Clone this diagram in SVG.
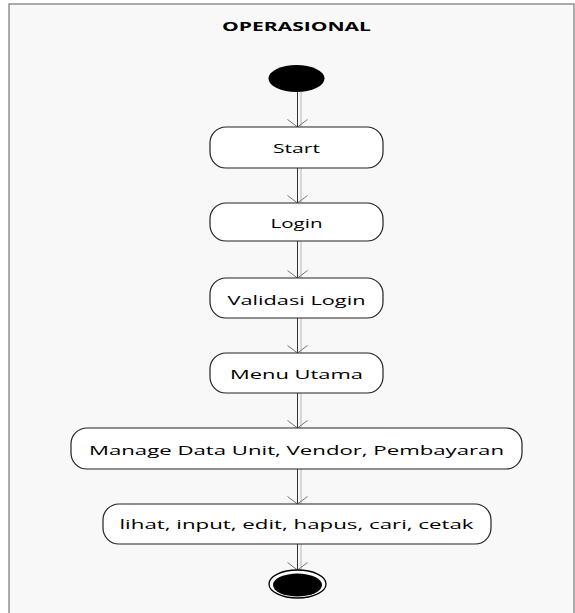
<svg xmlns="http://www.w3.org/2000/svg" width="575" height="613" viewBox="0 0 575 613">
<style>
.node rect{fill:#ffffff;stroke:#222;stroke-width:1.2}
.lbl{font-family:"Open Sans","Noto Sans",sans-serif;font-size:13.5px;fill:#000;text-anchor:middle}
.ttl{font-family:"Open Sans","Noto Sans",sans-serif;font-size:13px;font-weight:bold;fill:#000;text-anchor:middle}
.edge{stroke:#333;stroke-width:1;fill:none;marker-end:url(#arr)}
.shadow{stroke:#d6d6d6;stroke-width:2;fill:none}
</style>
<defs>
<marker id="arr" markerWidth="10" markerHeight="22" refX="8" refY="11" orient="auto" markerUnits="userSpaceOnUse" viewBox="0 0 10 22">
<path d="M0.5,1 L8,11 L0.5,21" fill="none" stroke="#777" stroke-width="1"/>
</marker>
</defs>
<rect x="0" y="0" width="575" height="613" fill="#ffffff"/>
<rect x="9" y="4" width="565" height="612" fill="#f8f8f8" stroke="#777" stroke-width="1.2"/>
<text class="ttl" x="296.5" y="31" textLength="149" lengthAdjust="spacingAndGlyphs">OPERASIONAL</text>
<g id="connectors">
<line class="shadow" x1="301" y1="92" x2="301" y2="127"/>
<line class="edge" x1="297.5" y1="92" x2="297.5" y2="127"/>
<line class="shadow" x1="301" y1="168" x2="301" y2="203"/>
<line class="edge" x1="297.5" y1="168" x2="297.5" y2="203"/>
<line class="shadow" x1="301" y1="241" x2="301" y2="278"/>
<line class="edge" x1="297.5" y1="241" x2="297.5" y2="278"/>
<line class="shadow" x1="301" y1="318" x2="301" y2="353"/>
<line class="edge" x1="297.5" y1="318" x2="297.5" y2="353"/>
<line class="shadow" x1="301" y1="393" x2="301" y2="428"/>
<line class="edge" x1="297.5" y1="393" x2="297.5" y2="428"/>
<line class="shadow" x1="301" y1="469" x2="301" y2="504"/>
<line class="edge" x1="297.5" y1="469" x2="297.5" y2="504"/>
<line class="shadow" x1="301" y1="544" x2="301" y2="570"/>
<line class="edge" x1="297.5" y1="544" x2="297.5" y2="570"/>
</g>
<g id="start-node"><ellipse cx="296.5" cy="78.5" rx="28" ry="13.5" fill="#000"/></g>
<g id="start" class="node"><rect x="210" y="127" width="173" height="41" rx="16"/><text class="lbl" x="296.5" y="152.5" textLength="47" lengthAdjust="spacingAndGlyphs">Start</text></g>
<g id="login" class="node"><rect x="210" y="203" width="173" height="38" rx="16"/><text class="lbl" x="296.5" y="227.5" textLength="52" lengthAdjust="spacingAndGlyphs">Login</text></g>
<g id="validasi" class="node"><rect x="210" y="278" width="173" height="40" rx="16"/><text class="lbl" x="296.5" y="304.5" textLength="138" lengthAdjust="spacingAndGlyphs">Validasi Login</text></g>
<g id="menu" class="node"><rect x="210" y="353" width="173" height="40" rx="16"/><text class="lbl" x="296.5" y="379" textLength="133" lengthAdjust="spacingAndGlyphs">Menu Utama</text></g>
<g id="manage" class="node"><rect x="71" y="428" width="451" height="41" rx="16"/><text class="lbl" x="296.5" y="454.5" textLength="415" lengthAdjust="spacingAndGlyphs">Manage Data Unit, Vendor, Pembayaran</text></g>
<g id="lihat" class="node"><rect x="103" y="504" width="388" height="40" rx="16"/><text class="lbl" x="296.5" y="529" textLength="354" lengthAdjust="spacingAndGlyphs">lihat, input, edit, hapus, cari, cetak</text></g>
<g id="end-node"><ellipse cx="297.5" cy="584" rx="28.5" ry="14" fill="#fff" stroke="#000" stroke-width="1.3"/><ellipse cx="297.5" cy="585" rx="24.5" ry="11.5" fill="#000"/></g>
</svg>
